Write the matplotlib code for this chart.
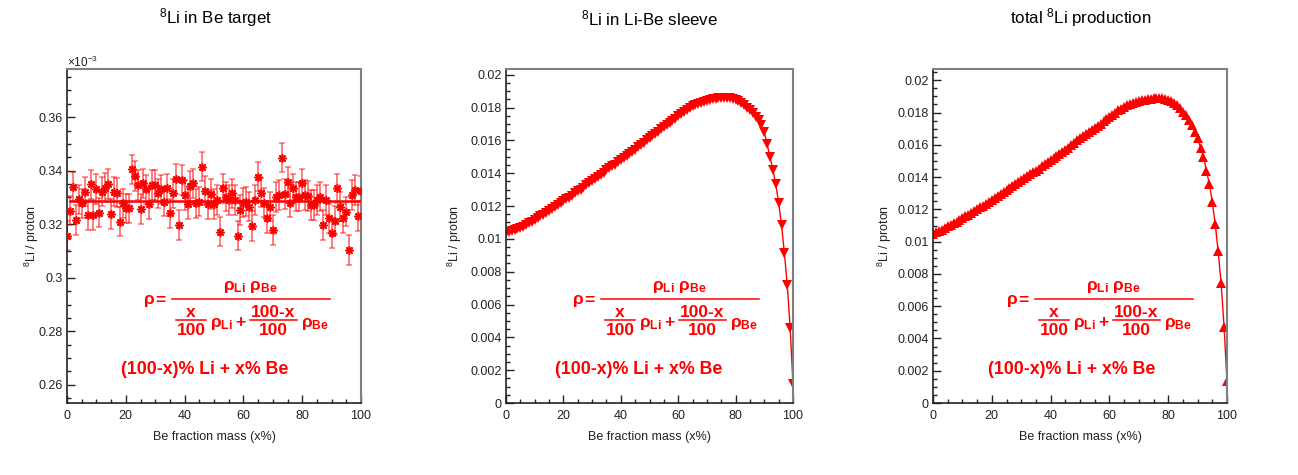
import matplotlib
matplotlib.use("Agg")
import matplotlib.pyplot as plt
from matplotlib.ticker import MultipleLocator, FuncFormatter
from matplotlib.transforms import IdentityTransform
from matplotlib.lines import Line2D

plt.rcParams['font.family'] = ['Liberation Sans', 'DejaVu Sans']
plt.rcParams['mathtext.fontset'] = 'custom'
plt.rcParams['mathtext.rm'] = 'Liberation Sans'
plt.rcParams['mathtext.it'] = 'Liberation Sans'
plt.rcParams['mathtext.bf'] = 'Liberation Sans:bold'

# ---------------- data ----------------
be_fraction = list(range(0, 101))  # Be fraction mass (x%)

# 8Li in Be target, in units of 1e-3 per proton
li8_target_e3 = [
    0.3157, 0.3251, 0.3340, 0.3216, 0.3293, 0.3278, 0.3322, 0.3234, 0.3349, 0.3234,
    0.3332, 0.3243, 0.3322, 0.3337, 0.3350, 0.3238, 0.3322, 0.3318, 0.3210, 0.3278,
    0.3259, 0.3259, 0.3405, 0.3380, 0.3347, 0.3257, 0.3353, 0.3330, 0.3276, 0.3347,
    0.3347, 0.3315, 0.3330, 0.3284, 0.3334, 0.3241, 0.3315, 0.3369, 0.3197, 0.3365,
    0.3309, 0.3276, 0.3343, 0.3353, 0.3278, 0.3284, 0.3415, 0.3325, 0.3274, 0.3313,
    0.3276, 0.3291, 0.3172, 0.3334, 0.3303, 0.3291, 0.3315, 0.3291, 0.3157, 0.3253,
    0.3281, 0.3284, 0.3266, 0.3193, 0.3291, 0.3378, 0.3318, 0.3281, 0.3222, 0.3266,
    0.3178, 0.3301, 0.3309, 0.3449, 0.3313, 0.3359, 0.3281, 0.3334, 0.3303, 0.3303,
    0.3353, 0.3309, 0.3306, 0.3272, 0.3272, 0.3291, 0.3303, 0.3197, 0.3291, 0.3222,
    0.3168, 0.3213, 0.3334, 0.3266, 0.3222, 0.3247, 0.3104, 0.3309, 0.3328, 0.3231,
    0.3325,
]
li8_target_err_e3 = 0.0055
li8_target_fit_e3 = 0.3285
fit_range = [1, 100]

# 8Li in Li-Be sleeve, per proton
li8_sleeve = [
    0.01035, 0.01042, 0.01048, 0.01052, 0.01060, 0.01065, 0.01074, 0.01085, 0.01094, 0.01104,
    0.01116, 0.01125, 0.01137, 0.01148, 0.01160, 0.01171, 0.01180, 0.01192, 0.01204, 0.01216,
    0.01228, 0.01240, 0.01250, 0.01264, 0.01277, 0.01289, 0.01300, 0.01313, 0.01326, 0.01338,
    0.01350, 0.01362, 0.01377, 0.01390, 0.01403, 0.01417, 0.01430, 0.01442, 0.01453, 0.01466,
    0.01478, 0.01492, 0.01504, 0.01517, 0.01530, 0.01543, 0.01558, 0.01572, 0.01585, 0.01600,
    0.01614, 0.01627, 0.01640, 0.01654, 0.01668, 0.01681, 0.01694, 0.01708, 0.01720, 0.01733,
    0.01746, 0.01759, 0.01771, 0.01783, 0.01796, 0.01807, 0.01815, 0.01823, 0.01830, 0.01836,
    0.01841, 0.01846, 0.01850, 0.01853, 0.01856, 0.01858, 0.01860, 0.01861, 0.01858, 0.01855,
    0.01848, 0.01840, 0.01830, 0.01817, 0.01800, 0.01783, 0.01765, 0.01745, 0.01722, 0.01695,
    0.01650, 0.01575, 0.01500, 0.01420, 0.01333, 0.01220, 0.01085, 0.00913, 0.00720, 0.00460,
    0.00114,
]

# total 8Li production, per proton
li8_total = [
    0.01048, 0.01057, 0.01066, 0.01075, 0.01085, 0.01094, 0.01104, 0.01114, 0.01124, 0.01135,
    0.01146, 0.01157, 0.01168, 0.01179, 0.01190, 0.01201, 0.01212, 0.01224, 0.01236, 0.01247,
    0.01259, 0.01271, 0.01283, 0.01296, 0.01308, 0.01321, 0.01333, 0.01346, 0.01358, 0.01371,
    0.01383, 0.01394, 0.01406, 0.01417, 0.01429, 0.01440, 0.01453, 0.01467, 0.01480, 0.01494,
    0.01507, 0.01520, 0.01532, 0.01545, 0.01557, 0.01569, 0.01583, 0.01598, 0.01612, 0.01627,
    0.01641, 0.01653, 0.01666, 0.01678, 0.01691, 0.01703, 0.01717, 0.01732, 0.01746, 0.01761,
    0.01775, 0.01788, 0.01800, 0.01813, 0.01825, 0.01837, 0.01845, 0.01853, 0.01860, 0.01866,
    0.01872, 0.01876, 0.01880, 0.01884, 0.01887, 0.01889, 0.01890, 0.01891, 0.01888, 0.01884,
    0.01878, 0.01870, 0.01860, 0.01847, 0.01828, 0.01806, 0.01785, 0.01755, 0.01723, 0.01682,
    0.01641, 0.01583, 0.01527, 0.01440, 0.01358, 0.01245, 0.01108, 0.00939, 0.00743, 0.00474,
    0.00134,
]

titles = [r"$^{8}$Li in Be target", r"$^{8}$Li in Li-Be sleeve", r"total $^{8}$Li production"]
xlabel = "Be fraction mass (x%)"
ylabel = r"$^{8}$Li / proton"
composition = "(100-x)% Li + x% Be"

# ---------------- layout ----------------
W, H = 1298, 475
fig = plt.figure(figsize=(W / 100, H / 100), dpi=100)
RED = '#ff0000'
PIX = IdentityTransform()

def px_axes(l, r, t=69, b=403):
    return fig.add_axes([l / W, (H - b) / H, (r - l) / W, (b - t) / H])

ax1 = px_axes(67, 361)
ax2 = px_axes(506, 793)
ax3 = px_axes(933, 1227)

fmt = FuncFormatter(lambda v, p: ("%.4f" % v).rstrip('0').rstrip('.') if abs(v) > 1e-12 else "0")

def style(ax, ymaj, ymin):
    ax.set_xlim(0, 100)
    ax.xaxis.set_major_locator(MultipleLocator(20))
    ax.xaxis.set_minor_locator(MultipleLocator(5))
    ax.yaxis.set_major_locator(MultipleLocator(ymaj))
    ax.yaxis.set_minor_locator(MultipleLocator(ymin))
    ax.yaxis.set_major_formatter(fmt)
    ax.tick_params(which='both', direction='in', top=False, right=False,
                   labelsize=9, colors='#222222')
    ax.tick_params(which='major', length=6, width=1.0)
    ax.tick_params(which='minor', length=3, width=1.0)
    ax.tick_params(axis='y', pad=3)
    ax.tick_params(axis='x', pad=5)
    for s in ('left', 'bottom'):
        ax.spines[s].set_color('#222222')
        ax.spines[s].set_linewidth(1.2)
    for s in ('top', 'right'):
        ax.spines[s].set_color('#808080')
        ax.spines[s].set_linewidth(1.5)

# panel 1
ax1.errorbar(be_fraction, li8_target_e3, yerr=li8_target_err_e3, fmt='none',
             ecolor=RED, alpha=0.5, elinewidth=1.4, capsize=2, capthick=1.2, zorder=2)
ax1.plot(fit_range, [li8_target_fit_e3, li8_target_fit_e3], color=RED, lw=1.8, zorder=3)
ax1.plot(be_fraction, li8_target_e3, linestyle='none', marker=(8, 2, 0), ms=6,
         mew=1.1, color=RED, zorder=4)
ax1.set_ylim(0.2532, 0.378)
style(ax1, 0.02, 0.005)
ax1.text(0.0, (403 - 67) / 334, r"$\times$10$^{-3}$", transform=ax1.transAxes, ha='left',
         va='baseline', fontsize=8.5, color='#222222')

# panel 2
ax2.plot(be_fraction, li8_sleeve, color=RED, lw=1.0, marker='v', ms=6.5, mew=0)
ax2.set_ylim(0, 0.02035)
style(ax2, 0.002, 0.0005)

# panel 3
ax3.plot(be_fraction, li8_total, color=RED, lw=1.0, marker='^', ms=6.5, mew=0)
ax3.set_ylim(0, 0.0207)
style(ax3, 0.002, 0.0005)

FS = 12.5

def ptext(x, y, s, ha='left', va='baseline', **kw):
    # x, y in image pixels (y downward)
    fig.text(x, H - y, s, transform=PIX, ha=ha, va=va, color=RED, **kw)

def pbar(x0, x1, y, lw=1.1):
    fig.add_artist(Line2D([x0, x1], [H - y, H - y], transform=PIX, color=RED, lw=lw))

def draw_formula(x0, yb):
    # x0: left of rho, yb: main fraction bar (image pixels)
    ptext(x0, yb + 2, r"$\mathbf{\rho}$", va='center', fontsize=FS)
    ptext(x0 + 17, yb + 1, "=", ha='center', va='center', fontsize=FS, fontweight='bold')
    pbar(x0 + 29, x0 + 187, yb)
    ptext(x0 + 108, yb - 9, r"$\mathbf{\rho_{Li}\ \rho_{Be}}$", ha='center', fontsize=FS)
    ptext(x0 + 48, yb + 18, "x", ha='center', fontsize=FS, fontweight='bold')
    pbar(x0 + 33, x0 + 63, yb + 21)
    ptext(x0 + 48, yb + 36, "100", ha='center', fontsize=FS, fontweight='bold')
    ptext(x0 + 67, yb + 28, r"$\mathbf{\rho_{Li}}$", fontsize=FS)
    ptext(x0 + 97, yb + 28, "+", ha='center', fontsize=FS, fontweight='bold')
    ptext(x0 + 130, yb + 18, "100-x", ha='center', fontsize=FS, fontweight='bold')
    pbar(x0 + 107, x0 + 154, yb + 21)
    ptext(x0 + 130, yb + 36, "100", ha='center', fontsize=FS, fontweight='bold')
    ptext(x0 + 158, yb + 28, r"$\mathbf{\rho_{Be}}$", fontsize=FS)

axes = [ax1, ax2, ax3]
title_x = [216, 649, 1081]
ylabel_x = [32, 455, 885]
formula_x = [143, 572, 1006]
comp_x = [121, 555, 988]
for ax, t, tx, yx, fx, cx in zip(axes, titles, title_x, ylabel_x, formula_x, comp_x):
    fig.text(tx / W, 1 - 18 / H, t, ha='center', va='center', fontsize=12.2, color='black')
    fig.text(yx / W, 1 - 236 / H, ylabel, ha='center', va='center', rotation=90,
             fontsize=9, color='#222222')
    bb = ax.get_position()
    fig.text(bb.x0 + bb.width / 2, 1 - 437 / H, xlabel, ha='center', va='center',
             fontsize=9, color='#222222')
    draw_formula(fx, 299)
    ptext(cx, 370, composition, va='center', fontsize=12.8, fontweight='bold')

fig.savefig("out.png", dpi=100, facecolor='white')
